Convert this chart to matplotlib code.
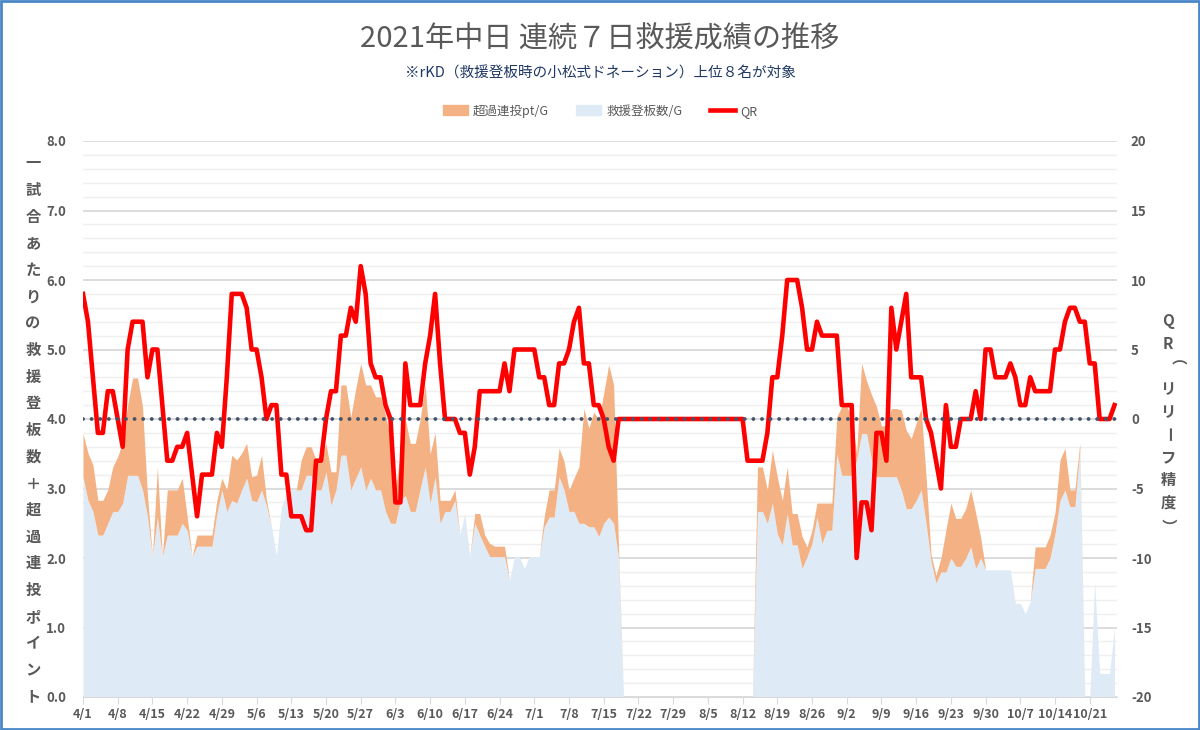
import numpy as np
import pandas as pd
import matplotlib
matplotlib.use('Agg')
import matplotlib.pyplot as plt
from matplotlib.ticker import MultipleLocator, FixedLocator
from matplotlib.patches import Patch, Rectangle
from matplotlib.lines import Line2D

plt.rcParams['font.family'] = ['Noto Sans CJK JP', 'DejaVu Sans']
plt.rcParams['axes.unicode_minus'] = False

# 2021/4/1 からの日次データ（連続7日）
dates = pd.date_range('2021-04-01', periods=209, freq='D')

# 救援登板数/G
relief = [3.17, 2.83, 2.67, 2.33, 2.33, 2.50, 2.67, 2.67, 2.79, 3.19,
          3.19, 3.19, 2.98, 2.60, 2.02, 2.59, 2.02, 2.33, 2.33, 2.33,
          2.50, 2.40, 2.02, 2.17, 2.17, 2.17, 2.17, 2.64, 2.98, 2.67,
          2.83, 2.79, 2.98, 3.15, 2.83, 2.81, 2.98, 2.75, 2.45, 2.04,
          2.74, 2.93, 2.98, 2.98, 2.98, 3.19, 3.19, 2.98, 2.98, 3.24,
          2.76, 2.98, 3.48, 3.48, 2.98, 3.15, 3.31, 2.98, 3.15, 2.98,
          2.98, 2.67, 2.50, 2.50, 2.83, 2.90, 2.67, 2.67, 3.00, 3.31,
          2.79, 3.17, 2.50, 2.67, 2.67, 2.83, 2.33, 2.64, 2.02, 2.50,
          2.33, 2.17, 2.02, 2.02, 2.02, 2.02, 1.68, 2.02, 2.02, 1.85,
          2.02, 2.02, 2.02, 2.45, 2.59, 2.59, 3.17, 2.98, 2.67, 2.67,
          2.50, 2.50, 2.45, 2.45, 2.31, 2.50, 2.59, 2.50, 2.00,
          0, 0, 0, 0, 0, 0, 0, 0, 0, 0, 0, 0, 0, 0,
          0, 0, 0, 0, 0, 0, 0, 0, 0, 0, 0, 0, 0,
          2.67, 2.67, 2.50, 2.79, 2.35, 2.19, 2.64, 2.19, 2.19, 1.85,
          2.02, 2.21, 2.59, 2.21, 2.40, 2.40, 3.50, 3.19, 3.19, 3.19,
          3.41, 3.79, 3.79, 3.41, 3.17, 3.17, 3.17, 3.17, 3.17, 2.98,
          2.71, 2.71, 2.83, 2.98, 2.50, 1.95, 1.64, 1.80, 1.80, 2.00,
          1.88, 1.88, 2.00, 2.16, 1.85, 2.00, 1.83, 1.83, 1.83, 1.83,
          1.83, 1.83, 1.35, 1.35, 1.20, 1.37, 1.85, 1.85, 1.85, 2.00,
          2.35, 2.83, 2.98, 2.74, 2.74, 3.55, 0, 0, 1.66, 0.34,
          0.34, 0.34, 1.01]

# 超過連投pt/G
overwork = [0.62, 0.68, 0.67, 0.50, 0.50, 0.48, 0.64, 0.79, 0.88, 1.01,
            1.40, 1.40, 1.20, 0.30, 0.00, 0.72, 0.00, 0.65, 0.65, 0.65,
            0.65, 0.20, 0.00, 0.16, 0.16, 0.16, 0.16, 0.19, 0.17, 0.31,
            0.65, 0.62, 0.53, 0.50, 0.34, 0.38, 0.50, 0.08, 0.00, 0.00,
            0.00, 0.00, 0.00, 0.00, 0.43, 0.41, 0.41, 0.43, 0.43, 0.41,
            0.48, 0.26, 1.01, 1.01, 1.05, 1.29, 1.49, 1.51, 1.34, 1.34,
            1.34, 1.38, 1.20, 0.50, 0.67, 1.10, 0.98, 0.98, 1.00, 1.19,
            0.71, 0.63, 0.33, 0.16, 0.16, 0.15, 0.00, 0.00, 0.00, 0.14,
            0.31, 0.16, 0.19, 0.15, 0.15, 0.15, 0.00, 0.00, 0.00, 0.00,
            0.00, 0.00, 0.00, 0.15, 0.39, 0.39, 0.41, 0.41, 0.31, 0.48,
            0.81, 1.65, 1.42, 1.65, 1.68, 1.87, 2.19, 1.99, 0.10,
            0, 0, 0, 0, 0, 0, 0, 0, 0, 0, 0, 0, 0, 0,
            0, 0, 0, 0, 0, 0, 0, 0, 0, 0, 0, 0, 0,
            0.64, 0.64, 0.48, 0.76, 0.82, 0.64, 0.67, 0.45, 0.45, 0.46,
            0.14, 0.19, 0.20, 0.58, 0.39, 0.39, 0.53, 0.99, 0.99, 0.84,
            0.09, 1.01, 0.76, 0.94, 1.01, 0.73, 0.73, 0.98, 0.98, 1.15,
            1.13, 1.01, 1.11, 1.17, 0.67, 0.10, 0.11, 0.20, 0.60, 0.79,
            0.69, 0.69, 0.71, 0.82, 0.80, 0.30, 0.00, 0.00, 0.00, 0.00,
            0.00, 0.00, 0.00, 0.00, 0.00, 0.00, 0.31, 0.31, 0.31, 0.33,
            0.30, 0.58, 0.60, 0.24, 0.24, 0.10, 0.00, 0.00, 0.00, 0.00,
            0.00, 0.00, 0.00]

# QR（リリーフ精度）
qr = [9, 7, 3, -1, -1, 2, 2, 0, -2, 5,
      7, 7, 7, 3, 5, 5, 1, -3, -3, -2,
      -2, -1, -4, -7, -4, -4, -4, -1, -2, 3,
      9, 9, 9, 8, 5, 5, 3, 0, 1, 1,
      -4, -4, -7, -7, -7, -8, -8, -3, -3, 0,
      2, 2, 6, 6, 8, 7, 11, 9, 4, 3,
      3, 1, 0, -6, -6, 4, 1, 1, 1, 4,
      6, 9, 4, 0, 0, 0, -1, -1, -4, -2,
      2, 2, 2, 2, 2, 4, 2, 5, 5, 5,
      5, 5, 3, 3, 1, 1, 4, 4, 5, 7,
      8, 4, 4, 1, 1, 0, -2, -3, 0,
      0, 0, 0, 0, 0, 0, 0, 0, 0, 0, 0, 0, 0,
      0, 0, 0, 0, 0, 0, 0, 0, 0, 0, 0, 0,
      -3, -3, -3, -3, -1, 3, 3, 6, 10, 10,
      10, 8, 5, 5, 7, 6, 6, 6, 6, 1,
      1, 1, -10, -6, -6, -8, -1, -1, -3, 8,
      5, 7, 9, 3, 3, 3, 0, -1, -3, -5,
      1, -2, -2, 0, 0, 0, 2, 0, 5, 5,
      3, 3, 3, 4, 3, 1, 1, 3, 2, 2,
      2, 2, 5, 5, 7, 8, 8, 7, 7, 4,
      4, 0, 0, 0, 1]

title = '2021年中日 連続７日救援成績の推移'
subtitle = '※rKD（救援登板時の小松式ドネーション）上位８名が対象'
ylabel_left = '一試合あたりの救援登板数＋超過連投ポイント'
ylabel_right = 'QR（リリーフ精度）'

C_BLUE = '#DEEBF7'
C_ORANGE = '#F4B183'
C_RED = '#FF0000'
C_TXT = '#595959'
C_GRID = '#D9D9D9'

x = np.arange(len(dates))
relief = np.array(relief)
overwork = np.array(overwork)
top = relief + overwork

W, H = 1200, 730
fig = plt.figure(figsize=(12, 7.3), dpi=100)
ax = fig.add_axes([83 / W, 1 - 697 / H, (1117 - 83) / W, (697 - 141) / H])

ax.fill_between(x, 0, relief, color=C_BLUE, lw=0, zorder=2)
ax.fill_between(x, relief, top, color=C_ORANGE, lw=0, zorder=2)

ax.set_xlim(0, len(x) - 0.5)
ax.set_ylim(0, 8)
ax.yaxis.set_major_locator(MultipleLocator(1))
ax.yaxis.set_minor_locator(MultipleLocator(0.2))
ax.set_yticklabels([f'{v:.1f}' for v in ax.get_yticks()])
ax.grid(which='major', axis='y', color=C_GRID, lw=1.3, zorder=0)
ax.grid(which='minor', axis='y', color='#EFEFEF', lw=1.0, zorder=0)
ax.set_axisbelow(True)

tick_pos = x[::7]
ax.xaxis.set_major_locator(FixedLocator(tick_pos))
ax.set_xticklabels([f'{d.month}/{d.day}' for d in dates[::7]])
ax.tick_params(axis='x', length=5, color=C_GRID, pad=3,
               labelsize=9, labelcolor=C_TXT)
ax.tick_params(axis='y', which='both', length=0, pad=12,
               labelsize=9.5, labelcolor=C_TXT)
for lab in ax.get_xticklabels() + ax.get_yticklabels():
    lab.set_fontweight('bold')
for s in ['top', 'left', 'right']:
    ax.spines[s].set_visible(False)
ax.spines['bottom'].set_color(C_GRID)

# 右軸：QR
ax2 = ax.twinx()
ax2.plot(x, qr, color=C_RED, lw=3.3, solid_joinstyle='round', zorder=3)
ax2.axhline(0, color='#44546A', lw=2.8, ls=(0, (0.01, 2.2)),
            dash_capstyle='round', zorder=4)
ax2.set_ylim(-20, 20)
ax2.yaxis.set_major_locator(MultipleLocator(5))
ax2.tick_params(axis='y', length=0, pad=10, labelsize=9.5, labelcolor=C_TXT)
for lab in ax2.get_yticklabels():
    lab.set_fontweight('bold')
for s in ax2.spines.values():
    s.set_visible(False)

# タイトル
fig.text(0.5, 1 - 40 / H, title, ha='center', va='center',
         fontsize=21, color=C_TXT)
fig.text(0.5, 1 - 74 / H, subtitle, ha='center', va='center',
         fontsize=10.5, color='#203864')

# 凡例
handles = [Patch(color=C_ORANGE), Patch(color=C_BLUE),
           Line2D([], [], color=C_RED, lw=3.3)]
leg = fig.legend(handles, ['超過連投pt/G', '救援登板数/G', 'QR'],
                 loc='center', bbox_to_anchor=(0.5, 1 - 111 / H), ncol=3,
                 frameon=False, fontsize=9, handlelength=2.0,
                 handleheight=0.8, handletextpad=0.4, columnspacing=2.2)
for t in leg.get_texts():
    t.set_color(C_TXT)

# 縦書きの軸ラベル
for i, ch in enumerate(ylabel_left):
    fig.text(33 / W, 1 - (163.3 + i * 26.67) / H, ch, ha='center',
             va='center', fontsize=11, fontweight='bold', color=C_TXT)

rot_chars = '（）ー'
for i, ch in enumerate(ylabel_right):
    fig.text(1168 / W, 1 - (321 + i * 22.7) / H, ch, ha='center',
             va='center', fontsize=11, fontweight='bold', color=C_TXT,
             rotation=-90 if ch in rot_chars else 0)

# 外枠
fig.patches.append(Rectangle((0.001, 0.002), 0.998, 0.996,
                             transform=fig.transFigure, fill=False,
                             ec='#4A86C8', lw=2))

fig.savefig('out.png', dpi=100)
